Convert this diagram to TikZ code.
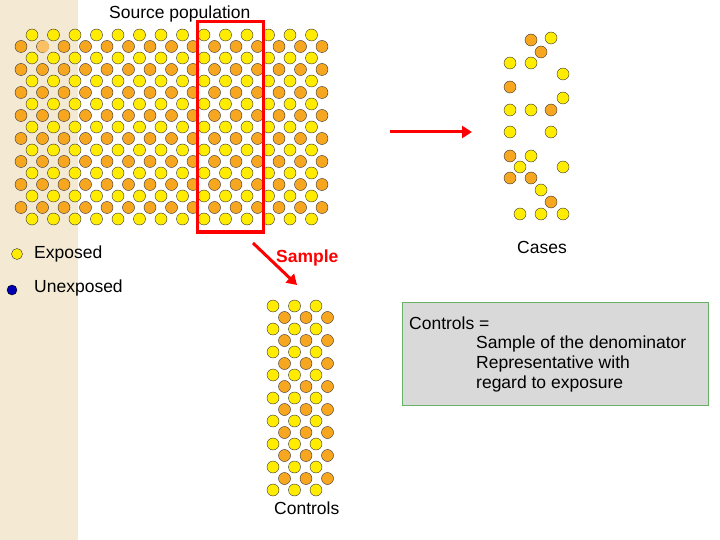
\documentclass[tikz,border=0pt]{standalone}
\usepackage{fontspec}
\setmainfont{Liberation Sans}
\usetikzlibrary{arrows.meta}
\definecolor{dotY}{RGB}{255,236,0}
\definecolor{dotO}{RGB}{247,166,32}
\definecolor{strip}{RGB}{244,234,212}
\begin{document}
\begin{tikzpicture}
  [
    x=1pt, y=-1pt,
    yel/.style={draw=black!80, fill=dotY, thin},
    ora/.style={draw=black!80, fill=dotO, thin},
    lbl/.style={font=\fontsize{17.5}{20}\selectfont, inner sep=0pt, anchor=west},
    redarrow/.style={draw=red, line width=3pt, -{Triangle[length=10pt,width=12pt]}}
  ]
  \useasboundingbox (0,0) rectangle (720,540);
  \fill [strip] (0,0) rectangle (78,540);

  % source population
  \foreach \r in {0,1,...,8} {
    \foreach \c in {0,1,...,13}
      \draw [yel] (32 + \c*21.5, 35 + \r*23) circle (6);
  }
  \foreach \r in {0,1,...,7} {
    \foreach \c in {0,1,...,14}
      \draw [ora] (21 + \c*21.5, 46.5 + \r*23) circle (6);
  }
  \fill [dotO!70] (43,46.5) circle (6);
  \draw [red, line width=3pt] (197,22) rectangle (263,232);
  \node [lbl] (src) at (109,14) {Source population};

  % cases
  \foreach \x/\y in {551/38, 510/63, 531/63, 563/74, 563/98, 510/110, 531/110,
      510/132, 551/132, 531/156, 520/167, 563/167, 541/190, 520/214, 541/214, 563/214}
    \draw [yel] (\x,\y) circle (6);
  \foreach \x/\y in {531/40, 541/52, 510/87, 551/110, 510/156, 510/178, 531/178, 551/202}
    \draw [ora] (\x,\y) circle (6);
  \node [lbl] (cases) at (517,247) {Cases};

  % controls
  \foreach \r in {0,1,...,8} {
    \foreach \c in {0,1,2}
      \draw [yel] (273 + \c*21.5, 306 + \r*23) circle (6);
  }
  \foreach \r in {0,1,...,7} {
    \foreach \c in {0,1,2}
      \draw [ora] (284.5 + \c*21.5, 317.5 + \r*23) circle (6);
  }
  \node [lbl] (ctrl) at (274,508) {Controls};

  % arrows
  \coordinate (a1) at (390,132);
  \coordinate (a2) at (472,132);
  \draw [redarrow] (a1) -- (a2);
  \coordinate (b1) at (253,243);
  \coordinate (b2) at (297,285);
  \draw [redarrow] (b1) -- (b2);
  \node [lbl, text=red, font=\fontsize{17.5}{20}\selectfont\bfseries] (smp) at (276,258) {Sample};

  % legend
  \draw [yel] (17,254) circle (5.5);
  \node [lbl] (exp) at (34,254) {Exposed};
  \draw [draw=black, fill=blue!70!black] (12,290) circle (5);
  \node [lbl] (unexp) at (34,288) {Unexposed};

  % note
  \draw [fill=black!15, draw=green!50!black!60] (402,302) rectangle (708,405);
  \node [lbl] (n1) at (409,323) {Controls =};
  \node [lbl, align=left, anchor=north west] (n2) at (476,336)
    {Sample of the denominator\\Representative with\\regard to exposure};
\end{tikzpicture}
\end{document}
